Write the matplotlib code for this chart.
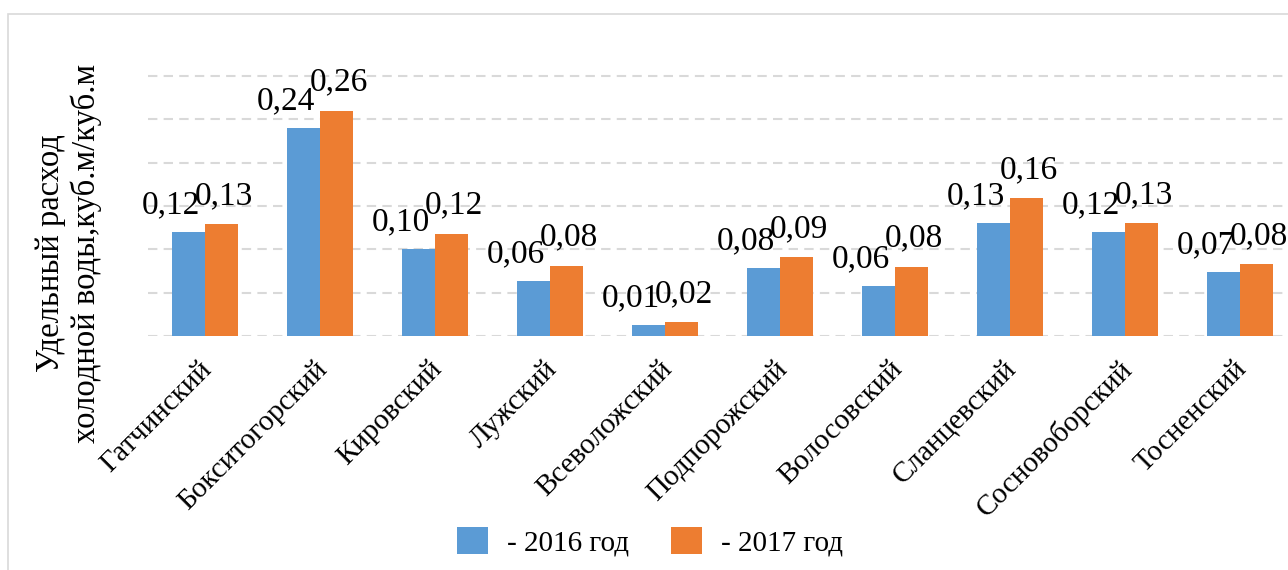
import matplotlib
matplotlib.use("Agg")
import matplotlib.pyplot as plt
import matplotlib.transforms as mtransforms
from matplotlib.patches import Rectangle
import numpy as np

plt.rcParams['font.family'] = ['Liberation Serif', 'DejaVu Serif']

# ---- data ----
categories = ["Гатчинский", "Бокситогорский", "Кировский", "Лужский", "Всеволожский",
              "Подпорожский", "Волосовский", "Сланцевский", "Сосновоборский", "Тосненский"]
values_2016 = [0.120, 0.240, 0.100, 0.064, 0.013, 0.078, 0.058, 0.130, 0.120, 0.074]
values_2017 = [0.129, 0.260, 0.118, 0.081, 0.016, 0.091, 0.080, 0.159, 0.130, 0.083]
series_names = ["- 2016 год", "- 2017 год"]
y_label = "Удельный расход\nхолодной воды,куб.м/куб.м"
grid_ticks = [0.0, 0.05, 0.10, 0.15, 0.20, 0.25, 0.30]

# ---- style ----
c2016 = "#5B9BD5"
c2017 = "#ED7D31"
grid_col = "#D9D9D9"
W, H, DPI = 1288, 570, 100

fig = plt.figure(figsize=(W / DPI, H / DPI), dpi=DPI)
ax_left = 147.5 / W
ax_bottom = 1 - 336 / H
ax_width = (W - 147.5) / W
ymax = 0.32
ax_height = (260 / 0.30 * ymax) / H
ax = fig.add_axes([ax_left, ax_bottom, ax_width, ax_height])

x = np.arange(len(categories))
bw = 0.287
b1 = ax.bar(x - bw / 2, values_2016, bw, color=c2016, label=series_names[0], zorder=3)
b2 = ax.bar(x + bw / 2, values_2017, bw, color=c2017, label=series_names[1], zorder=3)

ax.set_xlim(-0.5, 9 + 48 / 115)
ax.set_ylim(0, ymax)
ax.set_yticks(grid_ticks)
ax.set_yticklabels([])
ax.yaxis.grid(True, color=grid_col, linestyle=(0, (4.5, 3)), linewidth=1.5, zorder=0)
ax.set_axisbelow(True)
for s in ax.spines.values():
    s.set_visible(False)
ax.tick_params(axis='both', length=0)

# x tick labels
ax.set_xticks(x)
ax.set_xticklabels(categories, rotation=45, ha='right', va='center',
                   rotation_mode='anchor', fontsize=21)
ax.tick_params(axis='x', pad=21)
shift = mtransforms.ScaledTranslation(3 / DPI, 0, fig.dpi_scale_trans)
for lbl in ax.get_xticklabels():
    lbl.set_transform(lbl.get_transform() + shift)

# data labels
def fmt(v):
    return f"{v:.2f}".replace('.', ',')

for xi, v in zip(x, values_2016):
    ax.annotate(fmt(v), (xi - bw / 2, v), xytext=(-13, 13.5), textcoords='offset points',
                ha='center', va='baseline', fontsize=24, zorder=5)
for xi, v in zip(x, values_2017):
    ax.annotate(fmt(v), (xi + bw / 2, v), xytext=(1.5, 14.5), textcoords='offset points',
                ha='center', va='baseline', fontsize=24, zorder=5)

# y label
fig.text(69 / W, 1 - 253 / H, y_label, rotation=90, ha='center', va='center',
         fontsize=23.5, multialignment='center', linespacing=1.2)

# legend
leg = fig.legend(handles=[b1, b2], labels=series_names, loc='center',
                 bbox_to_anchor=(650 / W, 1 - 542 / H), ncol=2, frameon=False,
                 fontsize=21, handlelength=1.05, handleheight=1.05,
                 handletextpad=0.65, columnspacing=1.45)

# outer frame
fig.patches.append(Rectangle((8 / W, -0.2), 2.0, (H - 14) / H + 0.2,
                             transform=fig.transFigure, fill=False,
                             edgecolor=grid_col, linewidth=1.2, zorder=0))

fig.savefig("out.png", dpi=DPI)
